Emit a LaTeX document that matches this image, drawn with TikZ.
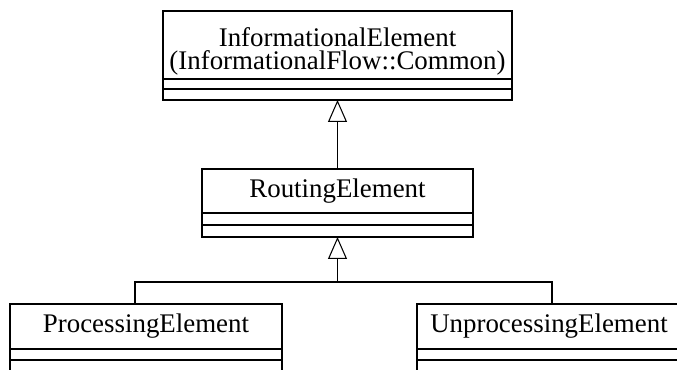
\documentclass[tikz,border=0pt]{standalone}
\usepackage{fontspec}
\setmainfont{Liberation Serif}
\usetikzlibrary{positioning,arrows.meta}

\begin{document}
\begin{tikzpicture}[
    line width=0.6pt,
    cname/.style={rectangle, draw, inner sep=0pt, outer sep=0pt, align=center, font=\fontsize{15.3}{13.3}\selectfont},
    cpart/.style={rectangle, draw, inner sep=0pt, outer sep=0pt},
    gen/.style={-{Triangle[open, length=0.44cm, width=0.38cm]}}
  ]
    \path[use as bounding box, clip] (0,0) rectangle (13.54,7.4);
    % classes
    \node[cname, minimum width=6.98cm, minimum height=1.36cm] (ie) at (6.75,6.5) {\rule{0pt}{18pt}InformationalElement\\(InformationalFlow::Common)};
    \node[cpart, minimum width=6.98cm, minimum height=0.2cm, below=0pt of ie] (ie-a) {};
    \node[cpart, minimum width=6.98cm, minimum height=0.22cm, below=0pt of ie-a] (ie-o) {};
    \node[cname, minimum width=5.42cm, minimum height=0.88cm] (re) at (6.75,3.58) {RoutingElement};
    \node[cpart, minimum width=5.42cm, minimum height=0.24cm, below=0pt of re] (re-a) {};
    \node[cpart, minimum width=5.42cm, minimum height=0.24cm, below=0pt of re-a] (re-o) {};
    \node[cname, minimum width=5.44cm, minimum height=0.9cm] (pe) at (2.92,0.87) {ProcessingElement};
    \node[cpart, minimum width=5.44cm, minimum height=0.22cm, below=0pt of pe] (pe-a) {};
    \node[cpart, minimum width=5.44cm, minimum height=0.22cm, below=0pt of pe-a] (pe-o) {};
    \node[cname, minimum width=5.28cm, minimum height=0.9cm] (ue) at (10.98,0.87) {UnprocessingElement};
    \node[cpart, minimum width=5.28cm, minimum height=0.22cm, below=0pt of ue] (ue-a) {};
    \node[cpart, minimum width=5.28cm, minimum height=0.22cm, below=0pt of ue-a] (ue-o) {};
    % generalizations
    \coordinate (fork) at (6.75,1.76);
    \draw[gen] (re.north) -- (ie-o.south);
    \draw ([xshift=-0.22cm]pe.north) |- (fork) -| ([xshift=0.06cm]ue.north);
    \draw[gen] (fork) -- (re-o.south);
\end{tikzpicture}
\end{document}
